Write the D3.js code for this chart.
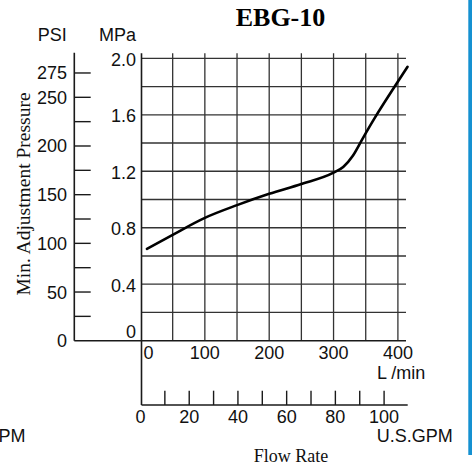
<!DOCTYPE html>
<html><head><meta charset="utf-8">
<script src="https://cdn.jsdelivr.net/npm/d3@7"></script>
<style>html,body{margin:0;padding:0;background:#fff;}svg{display:block;}</style>
</head><body>
<script>
// ---- data ----
const flowLmin = [10, 50, 100, 150, 200, 250, 300, 315, 330, 345, 365, 395, 415];
const pressureMPa = [0.65, 0.75, 0.87, 0.96, 1.04, 1.11, 1.19, 1.23, 1.31, 1.43, 1.585, 1.80, 1.94];
const mpaTicks = [0, 0.4, 0.8, 1.2, 1.6, 2.0];
const mpaGrid = [0.2, 0.4, 0.6, 0.8, 1.0, 1.2, 1.4, 1.6, 1.8, 2.0];
const psiLabels = [0, 50, 100, 150, 200, 250, 275];
const psiTicks = [25, 50, 75, 100, 125, 150, 175, 200, 225, 250, 275];
const lminLabels = [0, 100, 200, 300, 400];
const lminGrid = [50, 100, 150, 200, 250, 300, 350, 400];
const gpmLabels = [0, 20, 40, 60, 80, 100];
const gpmTicks = [10, 20, 30, 40, 50, 60, 70, 80, 90, 100];
const title = "EBG-10";

const W = 472, H = 468;
const svg = d3.select("body").append("svg").attr("width", W).attr("height", H);
const sans = "'Liberation Sans', Arial, sans-serif";
const serif = "'Liberation Serif', 'Times New Roman', serif";

const x = d3.scaleLinear().domain([0, 400]).range([140.5, 397.9]);
const y = d3.scaleLinear().domain([0, 2]).range([340.7, 58.3]);
const PSI_PER_MPA = 145.038;
const yPsi = d3.scaleLinear().domain([0, 2 * PSI_PER_MPA]).range([340.7, 58.3]);
const xGpm = d3.scaleLinear().domain([0, 100]).range([x(0), x(100 * 3.78541)]);

const gridTop = 53.3, gridRight = 406, axisLeft = 141.5, psiX = 74.3, gpmY = 405;

// right blue border
svg.append("rect").attr("x", 468.3).attr("y", 0).attr("width", 3.7).attr("height", 455).attr("fill", "#1591d1");

// title
svg.append("text").attr("x", 280.5).attr("y", 26).attr("text-anchor", "middle")
  .attr("font-family", serif).attr("font-weight", "bold").attr("font-size", 26).text(title);

// grid horizontal
svg.append("g").selectAll("line").data(mpaGrid).join("line")
  .attr("x1", axisLeft).attr("x2", gridRight).attr("y1", d => y(d)).attr("y2", d => y(d))
  .attr("stroke", "#333").attr("stroke-width", 1.3);
// grid vertical
svg.append("g").selectAll("line").data(lminGrid).join("line")
  .attr("x1", d => x(d)).attr("x2", d => x(d)).attr("y1", gridTop).attr("y2", y(0))
  .attr("stroke", "#333").attr("stroke-width", 1.3);

// axes lines
const axisStroke = "#1a1a1a";
svg.append("line").attr("x1", axisLeft).attr("x2", axisLeft).attr("y1", gridTop).attr("y2", gpmY)
  .attr("stroke", axisStroke).attr("stroke-width", 1.6);
svg.append("line").attr("x1", psiX).attr("x2", gridRight).attr("y1", y(0)).attr("y2", y(0))
  .attr("stroke", axisStroke).attr("stroke-width", 1.6);
svg.append("line").attr("x1", psiX).attr("x2", psiX).attr("y1", 52.7).attr("y2", y(0))
  .attr("stroke", axisStroke).attr("stroke-width", 1.6);
svg.append("line").attr("x1", axisLeft).attr("x2", 407.7).attr("y1", gpmY).attr("y2", gpmY)
  .attr("stroke", axisStroke).attr("stroke-width", 1.6);

// PSI ticks
svg.append("g").selectAll("line").data(psiTicks).join("line")
  .attr("x1", psiX).attr("x2", 90.7).attr("y1", d => yPsi(d)).attr("y2", d => yPsi(d))
  .attr("stroke", axisStroke).attr("stroke-width", 1.4);
svg.append("g").selectAll("text").data(psiLabels).join("text")
  .attr("x", 67).attr("y", d => yPsi(d) + 6.5).attr("text-anchor", "end")
  .attr("font-family", sans).attr("font-size", 18).attr("fill", "#111").text(d => d);

// MPa labels
svg.append("g").selectAll("text").data(mpaTicks).join("text")
  .attr("x", 136).attr("y", d => d === 0 ? y(d) - 2.5 : y(d) + 7.5).attr("text-anchor", "end")
  .attr("font-family", sans).attr("font-size", 18).attr("fill", "#111")
  .text(d => d === 0 ? "0" : d3.format(".1f")(d));

// unit headers
svg.append("text").attr("x", 66.7).attr("y", 41).attr("text-anchor", "end")
  .attr("font-family", sans).attr("font-size", 18).attr("fill", "#111").text("PSI");
svg.append("text").attr("x", 136).attr("y", 41).attr("text-anchor", "end")
  .attr("font-family", sans).attr("font-size", 18).attr("fill", "#111").text("MPa");

// L/min labels
svg.append("g").selectAll("text").data(lminLabels).join("text")
  .attr("x", d => d === 0 ? x(d) + 8 : x(d)).attr("y", 359.3).attr("text-anchor", "middle")
  .attr("font-family", sans).attr("font-size", 18).attr("fill", "#111").text(d => d);
svg.append("text").attr("x", 377).attr("y", 379).attr("font-family", sans).attr("font-size", 18)
  .attr("fill", "#111").text("L /min");

// GPM ticks & labels
svg.append("g").selectAll("line").data(gpmTicks).join("line")
  .attr("x1", d => xGpm(d)).attr("x2", d => xGpm(d)).attr("y1", 390.7).attr("y2", gpmY)
  .attr("stroke", axisStroke).attr("stroke-width", 1.4);
svg.append("g").selectAll("text").data(gpmLabels).join("text")
  .attr("x", d => xGpm(d)).attr("y", 423.3).attr("text-anchor", "middle")
  .attr("font-family", sans).attr("font-size", 18).attr("fill", "#111").text(d => d);
svg.append("text").attr("x", 376.7).attr("y", 441.7).attr("font-family", sans).attr("font-size", 18)
  .attr("fill", "#111").text("U.S.GPM");
svg.append("text").attr("x", 25.5).attr("y", 441.7).attr("text-anchor", "end").attr("font-family", sans)
  .attr("font-size", 18).attr("fill", "#111").text("U.S.GPM");

// axis titles
svg.append("text").attr("x", 291).attr("y", 462).attr("text-anchor", "middle")
  .attr("font-family", serif).attr("font-size", 18).attr("fill", "#111").text("Flow Rate");
svg.append("text").attr("transform", "translate(30,194) rotate(-90)").attr("text-anchor", "middle")
  .attr("font-family", serif).attr("font-size", 19.5).attr("fill", "#111").text("Min. Adjustment Pressure");

// curve
const pts = flowLmin.map((f, i) => [f, pressureMPa[i]]);
svg.append("path").datum(pts)
  .attr("d", d3.line().x(d => x(d[0])).y(d => y(d[1])).curve(d3.curveMonotoneX))
  .attr("fill", "none").attr("stroke", "#000").attr("stroke-width", 2.6).attr("stroke-linecap", "round");
</script>
</body></html>
